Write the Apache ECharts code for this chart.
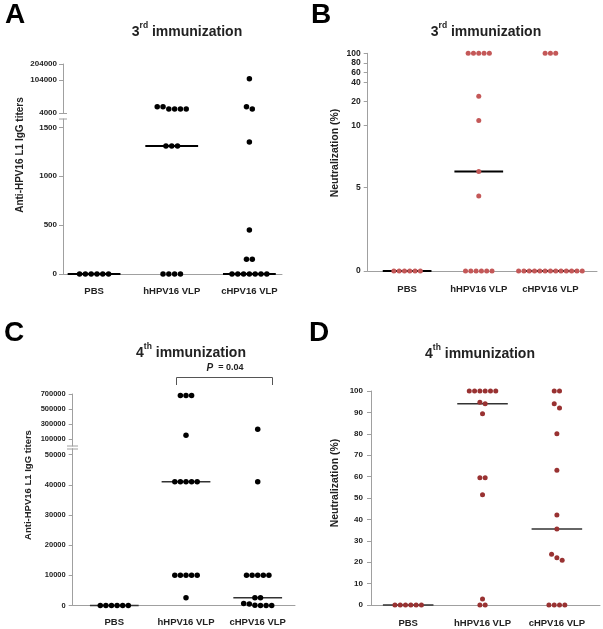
<!DOCTYPE html>
<html><head><meta charset="utf-8">
<script src="https://cdn.jsdelivr.net/npm/echarts@6/dist/echarts.min.js"></script>
<style>html,body{margin:0;padding:0;background:#fff}#c{width:603px;height:629px}</style>
</head><body><div id="c"></div>
<script>
const categories = ['PBS', 'hHPV16 VLP', 'cHPV16 VLP'];

// A - 3rd immunization, anti-HPV16 L1 IgG titers
const titerA_PBS  = [0, 0, 0, 0, 0, 0];
const titerA_hHPV = [16000, 16000, 23000, 16000, 23000, 16000, 1310, 1310, 1310, 0, 0, 0, 0];
const titerA_cHPV = [112000, 23000, 16000, 1350, 450, 150, 150, 0, 0, 0, 0, 0, 0, 0];
const medianA = [0, 1310, 0];
const ticksA = [0, 500, 1000, 1500, 4000, 104000, 204000];

// B - 3rd immunization, neutralization (%)
const neutB_PBS  = [0, 0, 0, 0, 0, 0];
const neutB_hHPV = [100, 100, 100, 100, 100, 25.5, 12, 6.3, 4.5, 0, 0, 0, 0, 0, 0];
const neutB_cHPV = [100, 100, 100, 0, 0, 0, 0, 0, 0, 0, 0, 0, 0, 0, 0, 0];
const medianB = [0, 6.3, 0];
const ticksB = [0, 5, 10, 20, 40, 60, 80, 100];

// C - 4th immunization, anti-HPV16 L1 IgG titers
const titerC_PBS  = [0, 0, 0, 0, 0, 0];
const titerC_hHPV = [680000, 680000, 680000, 154000, 41000, 41000, 41000, 41000, 41000, 10000, 10000, 10000, 10000, 10000, 2600];
const titerC_cHPV = [232000, 41000, 10000, 10000, 10000, 10000, 10000, 2600, 2600, 700, 500, 100, 0, 0, 0];
const medianC = [0, 41000, 2600];
const ticksC = [0, 10000, 20000, 30000, 40000, 50000, 100000, 300000, 500000, 700000];

// D - 4th immunization, neutralization (%)
const neutD_PBS  = [0, 0, 0, 0, 0, 0];
const neutD_hHPV = [100, 100, 100, 100, 100, 100, 94.7, 94.1, 89.4, 59.5, 59.5, 51.5, 2.8, 0, 0];
const neutD_cHPV = [100, 100, 94, 92, 80, 63, 42, 35.5, 23.7, 22.1, 20.9, 0, 0, 0, 0];
const medianD = [0, 94.1, 35.5];
const ticksD = [0, 10, 20, 30, 40, 50, 60, 70, 80, 90, 100];

const FONT = '"Liberation Sans", Arial, sans-serif';
const AXIS_GRAY = '#a0a0a0';

const panels = [
  { key: 'A', groups: [titerA_PBS, titerA_hHPV, titerA_cHPV], medians: medianA, ticks: ticksA,
    left: 63, right: 282, xmin: -0.4, xmax: 2.42,
    segs: [{min: 0, max: 1585, top: 119, bottom: 274}, {min: 4000, max: 104000, top: 80, bottom: 113}, {min: 104000, max: 204000, top: 64, bottom: 80}],
    yFont: 8, yMargin: 6, xMargin: 12, dot: 5.5, spacing: 5.8, color: '#000', medColor: '#000', medWidth: 2 },
  { key: 'B', groups: [neutB_PBS, neutB_hHPV, neutB_cHPV], medians: medianB, ticks: ticksB,
    left: 367.7, right: 597, xmin: -0.55, xmax: 2.65,
    segs: [{min: 0, max: 5, top: 187.7, bottom: 271}, {min: 5, max: 10, top: 125.3, bottom: 187.7}, {min: 10, max: 20, top: 101.7, bottom: 125.3}, {min: 20, max: 40, top: 82.3, bottom: 101.7}, {min: 40, max: 100, top: 53.3, bottom: 82.3}],
    yFont: 8.5, yMargin: 7, xMargin: 13, dot: 5, spacing: 5.3, color: '#c45858', medColor: '#000', medWidth: 2 },
  { key: 'C', groups: [titerC_PBS, titerC_hHPV, titerC_cHPV], medians: medianC, ticks: ticksC,
    left: 72.7, right: 295, xmin: -0.58, xmax: 2.52,
    segs: [{min: 0, max: 52000, top: 448.7, bottom: 605.5}, {min: 11300, max: 700000, top: 394, bottom: 446}],
    yFont: 7.5, yMargin: 7, xMargin: 12, dot: 5.5, spacing: 5.6, color: '#000', medColor: '#333', medWidth: 1.5 },
  { key: 'D', groups: [neutD_PBS, neutD_hHPV, neutD_cHPV], medians: medianD, ticks: ticksD,
    left: 371, right: 600, xmin: -0.5, xmax: 2.58,
    segs: [{min: 0, max: 100, top: 391, bottom: 605}],
    yFont: 8, yMargin: 8, xMargin: 13, dot: 5, spacing: 5.3, color: '#993232', medColor: '#333', medWidth: 1.5 }
];

const grid = [], xAxis = [], yAxis = [], series = [];
panels.forEach(p => {
  p.gridIdx = [];
  p.segs.forEach((s, si) => {
    const gi = grid.length;
    p.gridIdx.push(gi);
    grid.push({ left: p.left, top: s.top, width: p.right - p.left, height: s.bottom - s.top, containLabel: false });
    const isBottom = si === 0;
    xAxis.push({
      type: 'value', gridIndex: gi, min: p.xmin, max: p.xmax, show: isBottom,
      splitLine: { show: false },
      axisLine: { show: isBottom, onZero: false, lineStyle: { color: AXIS_GRAY, width: 1 } },
      axisTick: { show: false },
      axisLabel: { show: isBottom, customValues: [0, 1, 2], formatter: v => categories[Math.round(v)] || '',
        margin: p.xMargin, fontSize: 9.5, fontWeight: 'bold', color: '#222', fontFamily: FONT }
    });
    const segTicks = p.ticks.filter(t => {
      const owner = p.segs.findIndex(ss => t >= ss.min && t <= ss.max);
      return owner === si;
    });
    yAxis.push({
      type: 'value', gridIndex: gi, min: s.min, max: s.max,
      splitLine: { show: false },
      axisLine: { show: true, onZero: false, lineStyle: { color: AXIS_GRAY, width: 1 } },
      axisTick: { show: true, customValues: segTicks, length: 4, lineStyle: { color: AXIS_GRAY } },
      axisLabel: { customValues: segTicks, formatter: v => String(v), margin: p.yMargin,
        fontSize: p.yFont, fontWeight: 'bold', color: '#222', fontFamily: FONT }
    });
    series.push({ id: 'dots-' + p.key + '-' + si, type: 'scatter', xAxisIndex: gi, yAxisIndex: gi,
      symbol: 'circle', symbolSize: p.dot, itemStyle: { color: p.color, opacity: 1 }, clip: false, z: 5,
      silent: true, data: [] });
  });
  // median lines
  p.medians.forEach((m, ci) => {
    const si = p.segs.findIndex(ss => m >= ss.min && m <= ss.max);
    const gi = p.gridIdx[si];
    series.push({ type: 'line', xAxisIndex: gi, yAxisIndex: gi, symbol: 'none', clip: false, z: 3, silent: true,
      lineStyle: { color: p.medColor, width: p.medWidth }, data: [[ci - 0.34, m], [ci + 0.34, m]] });
  });
});

function rich(main, sup) {
  return {
    text: '{b|' + main + '}{s|' + sup + '}{b| immunization}',
    rich: {
      b: { fontSize: 14, fontWeight: 'bold', fontFamily: FONT, fill: '#222', verticalAlign: 'bottom', lineHeight: 18 },
      s: { fontSize: 8.5, fontWeight: 'bold', fontFamily: FONT, fill: '#222', verticalAlign: 'top', lineHeight: 18, padding: [0, 0, 6, 0] }
    }
  };
}

const graphic = [
  { type: 'text', x: 5, y: 1, style: { text: 'A', font: 'bold 28px ' + FONT, fill: '#000' } },
  { type: 'text', x: 311, y: 1, style: { text: 'B', font: 'bold 28px ' + FONT, fill: '#000' } },
  { type: 'text', x: 4, y: 319, style: { text: 'C', font: 'bold 28px ' + FONT, fill: '#000' } },
  { type: 'text', x: 309, y: 319, style: { text: 'D', font: 'bold 28px ' + FONT, fill: '#000' } },
  { type: 'text', x: 187, y: 30, style: Object.assign(rich('3', 'rd'), { align: 'center', verticalAlign: 'middle' }) },
  { type: 'text', x: 486, y: 30, style: Object.assign(rich('3', 'rd'), { align: 'center', verticalAlign: 'middle' }) },
  { type: 'text', x: 191, y: 351, style: Object.assign(rich('4', 'th'), { align: 'center', verticalAlign: 'middle' }) },
  { type: 'text', x: 480, y: 352, style: Object.assign(rich('4', 'th'), { align: 'center', verticalAlign: 'middle' }) },
  { type: 'text', x: 20, y: 155, rotation: Math.PI / 2, style: { text: 'Anti-HPV16 L1 IgG titers', font: 'bold 10px ' + FONT, fill: '#222', align: 'center', verticalAlign: 'middle' } },
  { type: 'text', x: 335, y: 153, rotation: Math.PI / 2, style: { text: 'Neutralization (%)', font: 'bold 10.5px ' + FONT, fill: '#222', align: 'center', verticalAlign: 'middle' } },
  { type: 'text', x: 28, y: 485, rotation: Math.PI / 2, style: { text: 'Anti-HPV16 L1 IgG titers', font: 'bold 9.5px ' + FONT, fill: '#222', align: 'center', verticalAlign: 'middle' } },
  { type: 'text', x: 335, y: 483, rotation: Math.PI / 2, style: { text: 'Neutralization (%)', font: 'bold 10.5px ' + FONT, fill: '#222', align: 'center', verticalAlign: 'middle' } },
  // axis break marks
  { type: 'line', shape: { x1: 59, y1: 113.5, x2: 67, y2: 113.5 }, style: { stroke: AXIS_GRAY, lineWidth: 1 } },
  { type: 'line', shape: { x1: 59, y1: 119, x2: 67, y2: 119 }, style: { stroke: AXIS_GRAY, lineWidth: 1 } },
  { type: 'line', shape: { x1: 67, y1: 446, x2: 78, y2: 446 }, style: { stroke: AXIS_GRAY, lineWidth: 1 } },
  { type: 'line', shape: { x1: 67, y1: 449, x2: 78, y2: 449 }, style: { stroke: AXIS_GRAY, lineWidth: 1 } },
  // significance bracket
  { type: 'polyline', shape: { points: [[176.5, 385], [176.5, 377.5], [272.5, 377.5], [272.5, 385]] }, style: { stroke: '#555', lineWidth: 1, fill: null } },
  { type: 'text', x: 225, y: 368, style: { text: '{i|P}{n|  = 0.04}', align: 'center', verticalAlign: 'middle',
      rich: { i: { font: 'italic bold 10px ' + FONT, fill: '#222' }, n: { font: 'bold 9px ' + FONT, fill: '#222' } } } }
];

const chart = echarts.init(document.getElementById('c'), null, { renderer: 'canvas' });
chart.setOption({ animation: false, backgroundColor: '#fff', grid, xAxis, yAxis, series, graphic });

// simple row-based swarm layout computed through the axis scales
const updates = [];
panels.forEach(p => {
  const segData = p.segs.map(() => []);
  const g0 = p.gridIdx[0];
  const unitPx = chart.convertToPixel({ xAxisIndex: g0, yAxisIndex: g0 }, [1, 0])[0] -
                 chart.convertToPixel({ xAxisIndex: g0, yAxisIndex: g0 }, [0, 0])[0];
  p.groups.forEach((vals, ci) => {
    const pts = vals.map(v => {
      const si = p.segs.findIndex(ss => v >= ss.min && v <= ss.max);
      const gi = p.gridIdx[si];
      const py = chart.convertToPixel({ xAxisIndex: gi, yAxisIndex: gi }, [0, v])[1];
      return { v, si, py };
    }).sort((a, b) => a.py - b.py);
    const clusters = [];
    let cur = null;
    pts.forEach(pt => {
      if (cur && pt.py - cur[cur.length - 1].py < p.spacing * 0.95) cur.push(pt);
      else { cur = [pt]; clusters.push(cur); }
    });
    clusters.forEach(cl => {
      const n = cl.length;
      cl.forEach((pt, k) => {
        const ox = (k - (n - 1) / 2) * p.spacing;
        segData[pt.si].push([ci + ox / unitPx, pt.v]);
      });
    });
  });
  segData.forEach((d, si) => updates.push({ id: 'dots-' + p.key + '-' + si, data: d }));
});
chart.setOption({ series: updates });
</script></body></html>
